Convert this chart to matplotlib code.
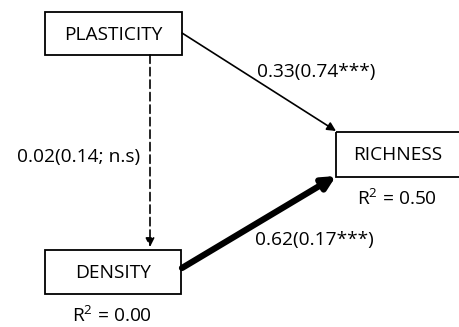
import matplotlib.pyplot as plt
from matplotlib.patches import Rectangle, FancyArrowPatch

# path model: nodes, path coefficients and explained variance
nodes = ["PLASTICITY", "DENSITY", "RICHNESS"]
paths = [("PLASTICITY", "RICHNESS"), ("PLASTICITY", "DENSITY"), ("DENSITY", "RICHNESS")]
path_labels = ["0.33(0.74***)", "0.02(0.14; n.s)", "0.62(0.17***)"]
r2_values = {"DENSITY": 0.00, "RICHNESS": 0.50}

# box extents in pixel coordinates (x0, y0, x1, y1)
boxes = {
    "PLASTICITY": (45, 12, 182, 55),
    "DENSITY": (45, 250, 181, 294),
    "RICHNESS": (336, 132, 462, 177),
}

plt.rcParams['font.family'] = ['Open Sans', 'DejaVu Sans']
plt.rcParams['mathtext.fontset'] = 'custom'
plt.rcParams['mathtext.rm'] = 'Open Sans'
FS = 13.8

fig = plt.figure(figsize=(4.6, 3.27), dpi=100)
ax = fig.add_axes([0, 0, 1, 1])
ax.set_xlim(0, 460)
ax.set_ylim(327, 0)
ax.axis('off')

for name in nodes:
    x0, y0, x1, y1 = boxes[name]
    ax.add_patch(Rectangle((x0, y0), x1 - x0, y1 - y0, fill=False,
                           edgecolor='black', linewidth=1.3))
    ax.text((x0 + x1) / 2 if name != "RICHNESS" else 398, (y0 + y1) / 2 + 1,
            name, ha='center', va='center', fontsize=FS)

# arrows: start/end points and styles
arrow_geom = [
    ((182, 33), (336, 131), '-', 1.2, 13),
    ((150, 55), (150, 247), (0, (5, 2.5)), 1.2, 13),
    ((182, 268), (336, 176), '-', 4.5, 19),
]
for (start, end, ls, lw, ms) in arrow_geom:
    ax.add_patch(FancyArrowPatch(start, end, arrowstyle='-|>', mutation_scale=ms,
                                 linestyle=ls, linewidth=lw, color='black',
                                 shrinkA=0, shrinkB=0))

label_pos = [(257, 72, 'left'), (140, 157, 'right'), (255, 240, 'left')]
for text, (x, y, ha) in zip(path_labels, label_pos):
    ax.text(x, y, text, ha=ha, va='center', fontsize=FS)

ax.text(112, 316, f"R$^2$ = {r2_values['DENSITY']:.2f}", ha='center', va='center', fontsize=FS)
ax.text(397, 199, f"R$^2$ = {r2_values['RICHNESS']:.2f}", ha='center', va='center', fontsize=FS)

fig.savefig('out.png', dpi=100)
